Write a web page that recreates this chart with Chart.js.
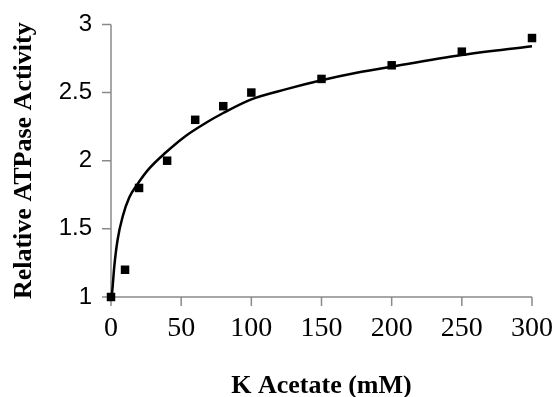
<!DOCTYPE html>
<html>
<head>
<meta charset="utf-8">
<script src="https://cdn.jsdelivr.net/npm/chart.js@4"></script>
<style>
  html, body { margin: 0; padding: 0; background: #fff; }
  #wrap { width: 560px; height: 397px; }
</style>
</head>
<body>
<div id="wrap"><canvas id="activity"></canvas></div>
<script>
// measured points
var acetate = [0, 10, 20, 40, 60, 80, 100, 150, 200, 250, 300];
var activity = [1.0, 1.2, 1.8, 2.0, 2.3, 2.4, 2.5, 2.6, 2.7, 2.8, 2.9];

// trend curve
var curveX = [0.5, 1.2, 2.3, 4.7, 8.3, 13, 19, 27, 39, 53, 68, 80, 100, 125, 150, 175, 200, 250, 300];
var curveY = [1.0, 1.08, 1.22, 1.42, 1.59, 1.73, 1.83, 1.94, 2.06, 2.18, 2.28, 2.35, 2.45, 2.525, 2.59, 2.645, 2.69, 2.775, 2.84];

var xTicks = [0, 50, 100, 150, 200, 250, 300];
var yTicks = [1, 1.5, 2, 2.5, 3];

function pairs(xs, ys) {
    return xs.map(function (x, i) { return { x: x, y: ys[i] }; });
}

var axisGrey = "#8a8a8a";
var tickLen = 9;

// axis lines and outward tick marks, placed with the chart's own scales
var axesPlugin = {
    id: "axes",
    beforeDatasetsDraw: function (chart) {
        var ctx = chart.ctx, xs = chart.scales.x, ys = chart.scales.y;
        var x0 = xs.getPixelForValue(0);
        var y0 = ys.getPixelForValue(1);
        ctx.save();
        ctx.strokeStyle = axisGrey;
        ctx.lineWidth = 1.5;
        ctx.beginPath();
        ctx.moveTo(x0, ys.getPixelForValue(3));
        ctx.lineTo(x0, y0);
        ctx.lineTo(xs.getPixelForValue(300), y0);
        xTicks.forEach(function (v) {
            var px = xs.getPixelForValue(v);
            ctx.moveTo(px, y0);
            ctx.lineTo(px, y0 + tickLen);
        });
        yTicks.forEach(function (v) {
            var py = ys.getPixelForValue(v);
            ctx.moveTo(x0, py);
            ctx.lineTo(x0 - tickLen, py);
        });
        ctx.stroke();
        ctx.restore();
    },
};

new Chart(document.getElementById("activity"), {
    type: "scatter",
    data: {
        datasets: [
            {
                label: "Measured",
                data: pairs(acetate, activity),
                pointStyle: "rect",
                pointRadius: 6,
                pointBorderWidth: 0,
                backgroundColor: "#000",
                borderColor: "#000",
                clip: false,
                order: 0,
            },
            {
                label: "Trend",
                data: pairs(curveX, curveY),
                showLine: true,
                pointRadius: 0,
                borderColor: "#000",
                borderWidth: 2.5,
                cubicInterpolationMode: "monotone",
                clip: false,
                order: 1,
            },
        ],
    },
    plugins: [axesPlugin],
    options: {
        responsive: true,
        maintainAspectRatio: false,
        animation: false,
        layout: { padding: { top: 23, right: 28, left: 0, bottom: 0 } },
        plugins: {
            legend: { display: false },
            tooltip: { enabled: false },
        },
        scales: {
            x: {
                type: "linear",
                min: 0,
                max: 300,
                afterBuildTicks: function (axis) {
                    axis.ticks = xTicks.map(function (v) { return { value: v }; });
                },
                afterFit: function (axis) { axis.height = 100; },
                grid: { display: false, tickLength: tickLen },
                border: { display: false },
                ticks: {
                    color: "#000",
                    padding: 6,
                    maxRotation: 0,
                    callback: function (v) { return String(v); },
                    font: { family: "'Liberation Serif', serif", size: 28 },
                },
                title: {
                    display: true,
                    text: "K Acetate (mM)",
                    color: "#000",
                    padding: { top: 0, bottom: 0 },
                    font: { family: "'Liberation Serif', serif", size: 26, weight: "bold", lineHeight: 0.8 },
                },
            },
            y: {
                type: "linear",
                min: 1,
                max: 3,
                afterBuildTicks: function (axis) {
                    axis.ticks = yTicks.map(function (v) { return { value: v }; });
                },
                afterFit: function (axis) { axis.width = 111; },
                grid: { display: false, tickLength: tickLen },
                border: { display: false },
                ticks: {
                    color: "#000",
                    padding: 10,
                    callback: function (v) { return String(v); },
                    font: { family: "'Liberation Sans', sans-serif", size: 24 },
                },
                title: {
                    display: true,
                    text: "Relative ATPase Activity",
                    color: "#000",
                    padding: { top: 9, bottom: 9 },
                    font: { family: "'Liberation Serif', serif", size: 26, weight: "bold" },
                },
            },
        },
    },
});
</script>
</body>
</html>
